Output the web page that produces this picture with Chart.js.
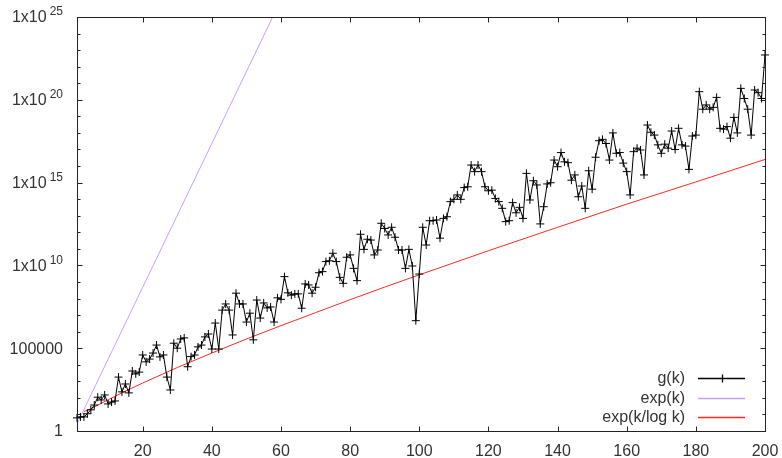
<!DOCTYPE html>
<html>
<head>
    <title>g(k) growth</title>
    <style>
        body {
            margin: 0;
            background-color: #fff;
        }
        canvas {
            display: block;
        }
    </style>
    <script src="https://cdn.jsdelivr.net/npm/chart.js@4.4.1/dist/chart.umd.min.js"></script>
</head>
<body>
    <canvas id="growthChart" width="782" height="458"></canvas>

    <script>
        // g(k) for k = 1 .. 200
        var gValues = [
            6.2, 7.1, 7.1, 11, 19, 37, 110, 75, 150, 43,
            56, 65, 1800, 230, 690, 200, 4200, 2800, 3600, 39000,
            15000, 22000, 51000, 1.55e5, 30000, 39000, 1800, 300, 2.0e5, 1.0e5,
            3.6e5, 4.2e5, 7600, 31000, 39000, 1.2e5, 1.55e5, 4.8e5, 7.2e5, 8.9e4,
            3.3e6, 8.9e4, 2.0e7, 4.7e7, 2.0e7, 6.3e5, 2.1e8, 4.7e7, 4.7e7, 3.8e6,
            1.3e7, 3.2e5, 8.1e7, 6.6e6, 5.4e7, 2.7e7, 3.1e7, 3.8e6, 1.1e8, 8.9e7,
            2.1e9, 2.2e8, 1.6e8, 1.9e8, 1.9e8, 2.6e7, 7.6e8, 6.6e8, 2.1e8, 4.8e8,
            3.6e9, 4.2e9, 1.7e10, 1.9e10, 5.4e10, 1.7e10, 1.9e9, 8.3e8, 3.1e10, 4.3e10,
            6.6e9, 1.2e9, 7.6e11, 9.3e10, 3.8e11, 3.4e11, 4.3e10, 8.5e10, 3.5e12, 1.7e12,
            6.9e11, 2.0e12, 5.0e11, 8.5e10, 8.5e10, 6.6e9, 9.3e10, 9.2e9, 4.6e6, 3.0e9,
            2.0e12, 1.7e11, 5.0e12, 5.0e12, 5.5e12, 4.4e11, 6.9e12, 8.7e12, 7.1e13, 9.8e13,
            1.8e14, 9.8e13, 5.0e14, 5.6e14, 1.15e16, 4.6e15, 1.15e16, 4.6e15, 5.6e14, 3.2e14,
            3.5e14, 1.1e14, 7.1e13, 2.8e13, 4.4e12, 5.0e12, 6.2e13, 1.5e13, 3.2e13, 6.9e12,
            3.6e15, 8.9e13, 1.3e15, 7.2e14, 3.2e12, 3.5e13, 8.3e14, 9.8e14, 2.3e16, 9.1e15,
            6.5e16, 1.8e16, 1.6e16, 1.4e15, 2.9e15, 1.4e14, 6.2e14, 2.8e13, 5.2e15, 4.0e14,
            3.4e16, 3.4e17, 4.1e17, 2.3e17, 2.3e16, 1.0e18, 5.9e16, 6.5e16, 1.5e16, 4.6e15,
            1.8e14, 7.4e16, 1.2e17, 9.3e16, 2.9e15, 3.0e18, 1.1e18, 7.4e17, 1.9e17, 5.9e16,
            2.1e17, 1.2e17, 1.3e18, 1.0e17, 1.9e18, 1.9e17, 1.6e17, 6.3e15, 6.5e17, 7.4e17,
            3.1e20, 2.7e19, 4.9e19, 2.7e19, 3.5e19, 1.4e20, 1.9e18, 1.7e18, 2.4e18, 4.8e17,
            8.7e18, 1.0e18, 4.9e20, 1.2e20, 2.7e19, 7.4e17, 3.9e20, 2.7e20, 1.2e20, 5.1e22
        ];

        // exp(k) - straight in log space, leaves the top of the plot
        var expK = [1, 58];
        var expValues = [2.7, 1.5e25];

        // exp(k/log k)
        var expLogK = [3, 4, 5, 10, 15, 20, 30, 40, 50, 60, 70, 80, 90, 100, 120, 140, 160, 180, 200];
        var expLogValues = [15, 18, 22, 77, 254, 790, 6800, 5.1e4, 3.6e5, 2.3e6, 1.4e7, 8.5e7, 4.9e8, 2.7e9, 7.7e10, 2.0e12, 5.0e13, 1.1e15, 2.5e16];

        var xTicks = [20, 40, 60, 80, 100, 120, 140, 160, 180, 200];
        var yDecades = [];
        for (var d = 0; d <= 25; d++) yDecades.push(Math.pow(10, d));
        var yLabelTicks = [
            { value: 1, base: '1', exp: '' },
            { value: 1e5, base: '100000', exp: '' },
            { value: 1e10, base: '1x10', exp: '10' },
            { value: 1e15, base: '1x10', exp: '15' },
            { value: 1e20, base: '1x10', exp: '20' },
            { value: 1e25, base: '1x10', exp: '25' }
        ];

        var gColor = '#000';
        var expColor = 'rgb(200, 160, 255)';
        var expLogColor = 'rgb(255, 40, 40)';
        var textColor = '#333';
        var fontFamily = '"Liberation Sans", Arial, sans-serif';

        function toPoints(xs, ys) {
            return ys.map(function (v, i) { return { x: xs[i], y: v }; });
        }

        // border box with inward tick marks on all four sides, plus y labels and legend
        var framePlugin = {
            id: 'frame',
            afterDraw: function (chart) {
                var ctx = chart.ctx;
                var area = chart.chartArea;
                var xs = chart.scales.x;
                var ys = chart.scales.y;

                ctx.save();
                ctx.strokeStyle = '#222';
                ctx.lineWidth = 1;
                var l = Math.round(area.left) + 0.5;
                var r = Math.round(area.right) + 0.5;
                var t = Math.round(area.top) + 0.5;
                var b = Math.round(area.bottom) + 0.5;
                ctx.strokeRect(l, t, r - l, b - t);

                ctx.beginPath();
                xTicks.forEach(function (v) {
                    var px = Math.round(xs.getPixelForValue(v)) + 0.5;
                    ctx.moveTo(px, b); ctx.lineTo(px, b - 5);
                    ctx.moveTo(px, t); ctx.lineTo(px, t + 5);
                });
                yDecades.forEach(function (v, i) {
                    var py = Math.round(ys.getPixelForValue(v)) + 0.5;
                    var len = (i % 5 === 0) ? 5 : 3;
                    ctx.moveTo(l, py); ctx.lineTo(l + len, py);
                    ctx.moveTo(r, py); ctx.lineTo(r - len, py);
                });
                ctx.stroke();

                // y labels with superscript exponents
                ctx.fillStyle = textColor;
                ctx.textBaseline = 'middle';
                ctx.textAlign = 'right';
                var labelRight = area.left - 14;
                yLabelTicks.forEach(function (tk) {
                    var py = ys.getPixelForValue(tk.value);
                    var x = labelRight;
                    if (tk.exp) {
                        ctx.font = '12px ' + fontFamily;
                        ctx.fillText(tk.exp, x, py - 5);
                        x -= ctx.measureText(tk.exp).width + 3;
                    }
                    ctx.font = '16px ' + fontFamily;
                    ctx.fillText(tk.base, x, py + 1);
                });
                ctx.restore();

                // legend, bottom right inside the plot
                var rows = [
                    { label: 'g(k)', color: gColor, cross: true },
                    { label: 'exp(k)', color: expColor, cross: false },
                    { label: 'exp(k/log k)', color: expLogColor, cross: false }
                ];
                var rowY = [area.bottom - 53, area.bottom - 33, area.bottom - 14];
                rows.forEach(function (row, i) {
                    var y = Math.round(rowY[i]) + 0.5;
                    ctx.save();
                    ctx.font = '16px ' + fontFamily;
                    ctx.fillStyle = textColor;
                    ctx.textAlign = 'right';
                    ctx.textBaseline = 'middle';
                    ctx.fillText(row.label, area.right - 80, y);
                    ctx.strokeStyle = row.color;
                    ctx.lineWidth = 1.3;
                    ctx.beginPath();
                    ctx.moveTo(area.right - 67, y);
                    ctx.lineTo(area.right - 20, y);
                    if (row.cross) {
                        var cx = Math.round(area.right - 43) + 0.5;
                        ctx.moveTo(cx, y - 4); ctx.lineTo(cx, y + 4);
                    }
                    ctx.stroke();
                    ctx.restore();
                });
            }
        };

        var growthChart = new Chart(document.getElementById('growthChart'), {
            type: 'line',
            data: {
                datasets: [
                    {
                        label: 'g(k)',
                        data: gValues.map(function (v, i) { return { x: i + 1, y: v }; }),
                        borderColor: gColor,
                        borderWidth: 1,
                        pointStyle: 'cross',
                        pointRadius: 4,
                        pointBorderWidth: 1,
                        pointBorderColor: gColor,
                        tension: 0,
                        clip: 6
                    },
                    {
                        label: 'exp(k)',
                        data: toPoints(expK, expValues),
                        borderColor: expColor,
                        borderWidth: 1,
                        pointRadius: 0,
                        tension: 0
                    },
                    {
                        label: 'exp(k/log k)',
                        data: toPoints(expLogK, expLogValues),
                        borderColor: expLogColor,
                        borderWidth: 1,
                        pointRadius: 0,
                        tension: 0
                    }
                ]
            },
            options: {
                responsive: false,
                animation: false,
                devicePixelRatio: 1,
                layout: {
                    padding: { top: 17, right: 17, left: 0, bottom: 0 }
                },
                plugins: {
                    legend: { display: false },
                    tooltip: { enabled: false }
                },
                events: [],
                scales: {
                    x: {
                        type: 'linear',
                        min: 1,
                        max: 200,
                        grid: { display: false, drawTicks: false },
                        border: { display: false },
                        afterBuildTicks: function (scale) {
                            scale.ticks = xTicks.map(function (v) { return { value: v }; });
                        },
                        afterFit: function (scale) {
                            scale.height = 27;
                            // the last label may overhang into the right margin
                            scale.paddingLeft = 0;
                            scale.paddingRight = 0;
                        },
                        ticks: {
                            autoSkip: false,
                            maxRotation: 0,
                            padding: 11,
                            color: textColor,
                            font: { size: 16, family: fontFamily }
                        }
                    },
                    y: {
                        type: 'logarithmic',
                        min: 1,
                        max: 1e25,
                        grid: { display: false, drawTicks: false },
                        border: { display: false },
                        afterBuildTicks: function (scale) {
                            scale.ticks = yDecades.map(function (v) { return { value: v }; });
                        },
                        afterFit: function (scale) {
                            scale.width = 77;
                            scale.paddingTop = 0;
                            scale.paddingBottom = 0;
                        },
                        ticks: { display: false }
                    }
                }
            },
            plugins: [framePlugin]
        });
    </script>
</body>
</html>
